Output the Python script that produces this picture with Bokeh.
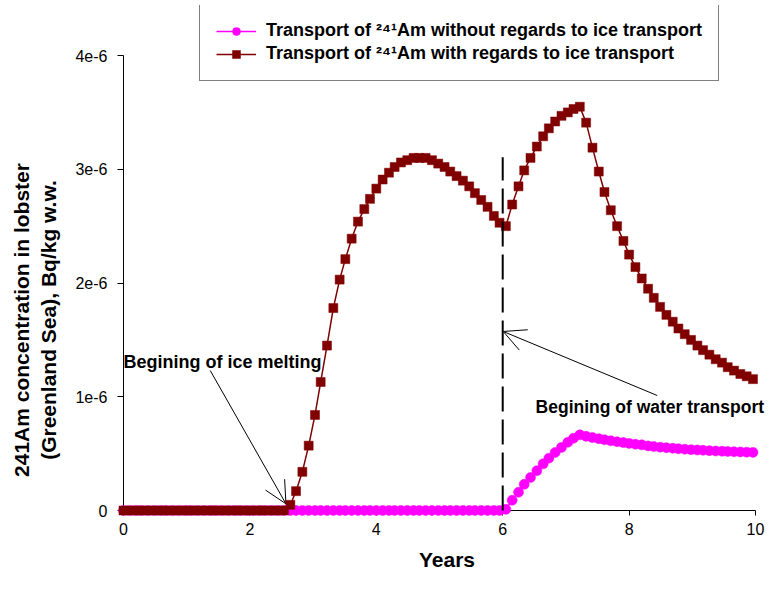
import math
from bokeh.plotting import figure
from bokeh.models import (ColumnDataSource, FixedTicker, Label, Arrow, OpenHead,
                          Legend, LegendItem, Range1d)
from bokeh.core.properties import value
from bokeh.embed import file_html
from bokeh.resources import INLINE

# ---------------- data (concentrations in units of 1e-6 Bq/kg w.w.) ----------------
years = [0, 0.1, 0.2, 0.29, 0.39, 0.49, 0.59, 0.68, 0.78, 0.88,
         0.98, 1.07, 1.17, 1.27, 1.37, 1.46, 1.56, 1.66, 1.76, 1.85,
         1.95, 2.05, 2.15, 2.24, 2.34, 2.44, 2.54, 2.64, 2.73, 2.83,
         2.93, 3.03, 3.12, 3.22, 3.32, 3.42, 3.51, 3.61, 3.71, 3.81,
         3.9, 4.0, 4.1, 4.2, 4.29, 4.39, 4.49, 4.59, 4.68, 4.78,
         4.88, 4.98, 5.08, 5.17, 5.27, 5.37, 5.47, 5.56, 5.66, 5.76,
         5.86, 5.95, 6.05, 6.15, 6.25, 6.34, 6.44, 6.54, 6.64, 6.73,
         6.83, 6.93, 7.03, 7.12, 7.22, 7.32, 7.42, 7.52, 7.61, 7.71,
         7.81, 7.91, 8.0, 8.1, 8.2, 8.3, 8.39, 8.49, 8.59, 8.69,
         8.78, 8.88, 8.98, 9.08, 9.17, 9.27, 9.37, 9.47, 9.56, 9.66,
         9.76, 9.86, 9.96]

am_without_ice = [0] * 62 + [
    0.01, 0.09, 0.16, 0.23, 0.29, 0.35, 0.41, 0.46, 0.51, 0.555,
    0.60, 0.635, 0.665,
    0.652, 0.641, 0.631, 0.622, 0.613, 0.605, 0.597, 0.590, 0.583, 0.577,
    0.568, 0.562, 0.557, 0.552, 0.547, 0.543, 0.539, 0.535, 0.532, 0.529,
    0.526, 0.523, 0.521, 0.519, 0.517, 0.515, 0.513, 0.511]

am_with_ice = [0] * 27 + [
    0.05, 0.17, 0.34, 0.57, 0.84, 1.13, 1.45, 1.78, 2.03, 2.21,
    2.39, 2.54, 2.65, 2.74, 2.83, 2.91, 2.97, 3.02, 3.06, 3.08,
    3.10, 3.10, 3.10, 3.08, 3.05, 3.02, 2.98, 2.94, 2.90, 2.85,
    2.79, 2.73, 2.67, 2.59, 2.53, 2.50, 2.69, 2.85, 2.99, 3.10,
    3.20, 3.29, 3.36, 3.42, 3.47, 3.50, 3.53, 3.55, 3.41, 3.19,
    2.98, 2.80, 2.64, 2.50, 2.37, 2.25, 2.14, 2.04, 1.95, 1.87,
    1.79, 1.72, 1.66, 1.60, 1.55, 1.50, 1.45, 1.41, 1.37, 1.33,
    1.30, 1.26, 1.23, 1.20, 1.18, 1.155]

assert len(years) == len(am_without_ice) == len(am_with_ice)

x_ticks = [0, 2, 4, 6, 8, 10]
x_tick_labels = ["0", "2", "4", "6", "8", "10"]
y_ticks = [0, 1, 2, 3, 4]
y_tick_labels = ["0", "1e-6", "2e-6", "3e-6", "4e-6"]

series_labels = ["Transport of \u00b2\u2074\u00b9Am without regards to ice transport",
                 "Transport of \u00b2\u2074\u00b9Am with regards to ice transport"]
y_title = "241Am concentration in lobster\n(Greenland Sea), Bq/kg w.w."
x_title = "Years"

# annotation data
water_start_x = [6.0, 6.0]
water_start_y = [0.0, 3.106]
ice_text = "Begining of ice melting"
ice_text_pos = [0.0, 1.304]
ice_arrow = [1.372, 1.231, 2.57, 0.059]      # x_start, y_start, x_end, y_end
water_text = "Begining of water transport"
water_text_pos = [6.52, 0.914]
water_arrow = [8.445, 1.011, 6.008, 1.574]
y_title_pos = [-1.40, 1.675]

FONT = "Liberation Sans"

p = figure(width=770, height=574, x_range=Range1d(0, 10.237), y_range=Range1d(0, 4.44),
           output_backend="svg", toolbar_location=None,
           min_border_left=123, min_border_right=0, min_border_top=5,
           min_border_bottom=64)
p.outline_line_color = None
p.xgrid.visible = False
p.ygrid.visible = False
p.background_fill_color = "white"
p.border_fill_color = "white"

for ax in (p.xaxis[0], p.yaxis[0]):
    ax.axis_line_color = "black"
    ax.axis_line_width = 1
    ax.major_tick_line_color = "black"
    ax.major_tick_in = 0
    ax.major_tick_out = 5
    ax.minor_tick_line_color = None
    ax.major_label_text_font = FONT
    ax.major_label_text_font_size = "16px"
    ax.major_label_text_color = "black"

p.xaxis.bounds = (x_ticks[0], x_ticks[-1])
p.yaxis.bounds = (y_ticks[0], y_ticks[-1])
p.xaxis.ticker = FixedTicker(ticks=x_ticks)
p.xaxis.major_label_overrides = dict(zip(x_ticks, x_tick_labels))
p.yaxis.ticker = FixedTicker(ticks=y_ticks)
p.yaxis.major_label_overrides = dict(zip(y_ticks, y_tick_labels))
p.xaxis.major_label_standoff = 7
p.yaxis.major_label_standoff = 10
p.yaxis.major_tick_out = 6

p.xaxis.axis_label = x_title
p.xaxis.axis_label_text_font = FONT
p.xaxis.axis_label_text_font_style = "bold"
p.xaxis.axis_label_text_font_size = "21px"
p.xaxis.axis_label_text_color = "black"
p.xaxis.axis_label_standoff = 10

src = ColumnDataSource(dict(years=years, no_ice=am_without_ice, with_ice=am_with_ice))

r_m_line = p.line("years", "no_ice", source=src, line_color="#FF00FF", line_width=1.5)
r_m_pts = p.scatter("years", "no_ice", source=src, marker="circle", size=10,
                    fill_color="#FF00FF", line_color="#FF00FF", line_width=0.5)
r_b_line = p.line("years", "with_ice", source=src, line_color="#800000", line_width=1.5)
r_b_pts = p.scatter("years", "with_ice", source=src, marker="square", size=9,
                    fill_color="#800000", line_color="#800000", line_width=0.5)
r_dash = p.line(water_start_x, water_start_y, line_color="black", line_width=2,
                line_dash="25 8")
r_ytitle = p.text(x=[y_title_pos[0]], y=[y_title_pos[1]], text=[y_title],
                  angle=math.pi / 2, text_align="center", text_baseline="middle",
                  text_font=value(FONT), text_font_style="bold", text_font_size="21px",
                  text_line_height=1.15, text_color="black")
for r in (r_m_line, r_m_pts, r_b_line, r_b_pts, r_dash, r_ytitle):
    r.level = "overlay"

legend = Legend(items=[LegendItem(label=series_labels[0], renderers=[r_m_line, r_m_pts]),
                       LegendItem(label=series_labels[1], renderers=[r_b_line, r_b_pts])],
                location=(76, 429), border_line_color="black", border_line_width=1,
                background_fill_color="white", background_fill_alpha=1,
                padding=16, spacing=2, label_height=20, glyph_height=20, glyph_width=40,
                label_standoff=10, label_text_font=FONT, label_text_font_style="bold",
                label_text_font_size="18px", label_text_color="black", margin=0)
p.add_layout(legend)

for txt, pos, fs in ((ice_text, ice_text_pos, "18px"), (water_text, water_text_pos, "17.5px")):
    p.add_layout(Label(x=pos[0], y=pos[1], text=txt, text_align="left",
                       text_baseline="middle", text_font=FONT, text_font_style="bold",
                       text_font_size=fs, text_color="black"))

for a in (ice_arrow, water_arrow):
    p.add_layout(Arrow(end=OpenHead(size=22, line_width=1, line_color="black"),
                       x_start=a[0], y_start=a[1], x_end=a[2], y_end=a[3],
                       line_width=1, line_color="black"))

open("out.html", "w").write(file_html(p, INLINE))
